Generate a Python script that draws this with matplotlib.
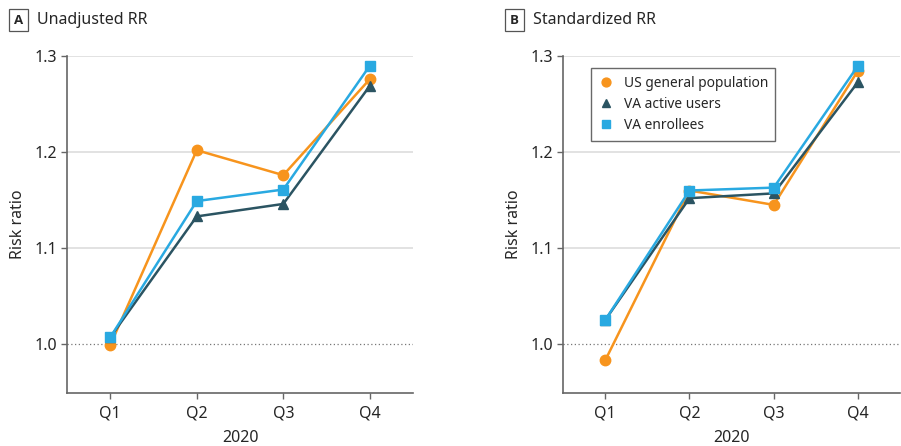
import matplotlib
matplotlib.use("Agg")
import matplotlib.pyplot as plt

plt.rcParams['font.family'] = ['Noto Sans', 'DejaVu Sans']

quarters = ["Q1", "Q2", "Q3", "Q4"]
series_names = ["US general population", "VA active users", "VA enrollees"]

# Panel A: unadjusted risk ratios
unadj_us = [0.999, 1.202, 1.176, 1.276]
unadj_active = [1.007, 1.133, 1.146, 1.269]
unadj_enrollees = [1.007, 1.149, 1.161, 1.290]

# Panel B: standardized risk ratios
std_us = [0.983, 1.160, 1.145, 1.285]
std_active = [1.025, 1.152, 1.157, 1.273]
std_enrollees = [1.025, 1.160, 1.163, 1.290]

colors = ["#F7941D", "#2B5462", "#29A9E1"]
markers = ["o", "^", "s"]
text_color = "#262626"

fig = plt.figure(figsize=(9.01, 4.46), dpi=100)
ax_a = fig.add_axes([0.0744, 0.119, 0.384, 0.755])
ax_b = fig.add_axes([0.625, 0.119, 0.374, 0.755])

panels = [
    (ax_a, "A", "Unadjusted RR", [unadj_us, unadj_active, unadj_enrollees]),
    (ax_b, "B", "Standardized RR", [std_us, std_active, std_enrollees]),
]

x = range(1, len(quarters) + 1)
for ax, letter, title, data in panels:
    for vals, name, c, m in zip(data, series_names, colors, markers):
        ax.plot(x, vals, color=c, marker=m, markersize=7.5, linewidth=1.8,
                label=name, zorder=3)
    ax.set_xlim(0.5, 4.5)
    ax.set_ylim(0.949, 1.3)
    ax.set_yticks([1.0, 1.1, 1.2, 1.3])
    ax.set_yticklabels(["1.0", "1.1", "1.2", "1.3"])
    ax.set_xticks(list(x))
    ax.set_xticklabels(quarters)
    for yv in [1.1, 1.2, 1.3]:
        ax.axhline(yv, color="#dddddd", linewidth=1.2, zorder=1)
    ax.axhline(1.0, color="#777777", linewidth=0.9, linestyle=(0, (1, 2)), zorder=1)
    for s in ["top", "right"]:
        ax.spines[s].set_visible(False)
    for s in ["left", "bottom"]:
        ax.spines[s].set_color("#666666")
        ax.spines[s].set_linewidth(1.2)
    ax.tick_params(colors=text_color, labelsize=11.5, length=4, width=1, pad=3,
                   color="#666666")
    ax.tick_params(axis="x", pad=5)
    ax.set_ylabel("Risk ratio", fontsize=11.5, color=text_color, labelpad=6)
    ax.set_xlabel("2020", fontsize=11.5, color=text_color, labelpad=6)
    bbox = ax.get_position()
    fig.text(bbox.x0 - 0.054, 0.955, letter, fontsize=9.5, fontweight="bold",
             family=["Open Sans", "DejaVu Sans"],
             color=text_color, va="center", ha="center",
             bbox=dict(boxstyle="square,pad=0.35", facecolor="white",
                       edgecolor="#555555", linewidth=0.9))
    fig.text(bbox.x0 - 0.033, 0.955, title, fontsize=11.5, color=text_color,
             va="center", ha="left")

leg = ax_b.legend(loc="upper left", bbox_to_anchor=(0.063, 0.985), fontsize=9.9,
                  frameon=True, fancybox=False, handlelength=1.0,
                  handletextpad=0.8, borderpad=0.55, labelspacing=0.45,
                  markerscale=0.85)
leg.get_frame().set_edgecolor("#444444")
leg.get_frame().set_linewidth(1.0)
for h in leg.legend_handles:
    h.set_linestyle("none")
for t in leg.get_texts():
    t.set_color(text_color)

fig.savefig("out.png", dpi=100)
